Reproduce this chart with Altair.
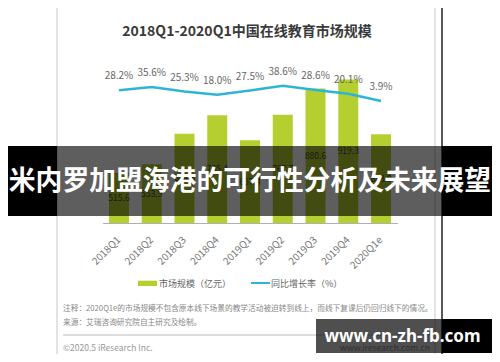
import altair as alt
import pandas as pd

quarters = ["2018Q1", "2018Q2", "2018Q3", "2018Q4", "2019Q1", "2019Q2", "2019Q3", "2019Q4", "2020Q1e"]
market = [515.6, 553.9, 684.8, 765.4, 657.4, 767.7, 880.6, 919.3, 683.0]
growth = [28.2, 35.6, 25.3, 18.0, 27.5, 38.6, 28.6, 20.1, 3.9]

title_text = "2018Q1-2020Q1中国在线教育市场规模"
legend_labels = ["市场规模（亿元）", "同比增长率（%）"]
note_lines = [
    "注释：2020Q1e的市场规模不包含原本线下场景的教学活动被迫转到线上，而线下复课后仍回归线下的情况。",
    "来源：艾瑞咨询研究院自主研究及绘制。",
]
footer_left = "©2020.5 iResearch Inc."
footer_right = "www.iresearch.com.cn"
banner_text = "米内罗加盟海港的可行性分析及未来展望"
watermark_text = "www.cn-zh-fb.com"

FONT = "Noto Sans CJK SC"
GREEN = "#b4cf2f"
BLUE = "#2db5d8"

df = pd.DataFrame({"q": quarters, "v": market, "g": growth})
one = pd.DataFrame({"k": [0]})

xscale = alt.Scale(domain=quarters, range=[94.6, 389.4], paddingInner=0.39, paddingOuter=0.195)
ybar = alt.Scale(domain=[300, 1000], range=[215, 52.8], zero=False, nice=False)
yline = alt.Scale(domain=[0, 100], range=[94.7, 50.6], zero=False, nice=False)

xenc = alt.X("q:N", sort=quarters, scale=xscale, title=None,
             axis=alt.Axis(labelAngle=-45, labelAlign="right", labelBaseline="middle",
                           labelPadding=15, labelFontSize=10, labelColor="#777", labelFont=FONT,
                           domainColor="#b0b0b0", ticks=False, grid=False, zindex=1))


def box(x, x2, y, y2, **kw):
    return alt.Chart(one).mark_rect(**kw).encode(
        x=alt.value(x), x2=alt.value(x2), y=alt.value(y), y2=alt.value(y2))


def label(x, y, s, **kw):
    base = dict(font=FONT, baseline="middle")
    base.update(kw)
    return alt.Chart(one).mark_text(**base).encode(
        x=alt.value(x), y=alt.value(y), text=alt.value(s))


frame = box(49, 427, -10, 360, fill="white", stroke="#c8c8c8", strokeWidth=1)
edge = alt.Chart(one).mark_rule(color="#222", strokeWidth=1.5).encode(
    x=alt.value(434), y=alt.value(-8), y2=alt.value(346))

title = label(239, 24, title_text, fontSize=14, fontWeight="bold", color="#3a3a3a", align="center")

bars = alt.Chart(df).mark_bar(color=GREEN).encode(
    x=xenc,
    y=alt.Y("v:Q", scale=ybar, axis=None),
    y2=alt.datum(300),
)

bar_labels = alt.Chart(df).transform_calculate(mid="(datum.v + 300) / 2").mark_text(
    font=FONT, fontSize=8.5, color="#444", baseline="middle").encode(
    x=alt.X("q:N", sort=quarters, scale=xscale),
    y=alt.Y("mid:Q", scale=ybar, axis=None),
    text=alt.Text("v:Q", format=".1f"),
)

line = alt.Chart(df).mark_line(color=BLUE, strokeWidth=2.5).encode(
    x=alt.X("q:N", sort=quarters, scale=xscale),
    y=alt.Y("g:Q", scale=yline, axis=None),
)

line_labels = alt.Chart(df).transform_calculate(lab="format(datum.g, '.1f') + '%'").mark_text(
    font=FONT, fontSize=10, color="#666", baseline="middle", dy=-14).encode(
    x=alt.X("q:N", sort=quarters, scale=xscale),
    y=alt.Y("g:Q", scale=yline, axis=None),
    text="lab:N",
)

leg1 = box(130, 149, 272.7, 278, fill=GREEN)
leg1t = label(151, 275.5, legend_labels[0], fontSize=9, color="#666", align="left")
leg2 = alt.Chart(one).mark_rule(color=BLUE, strokeWidth=2).encode(
    x=alt.value(243), x2=alt.value(262), y=alt.value(275))
leg2t = label(263, 275.5, legend_labels[1], fontSize=9, color="#666", align="left")

note1 = label(55, 301.3, note_lines[0], fontSize=7.7, color="#888", align="left")
note2 = label(55, 314.7, note_lines[1], fontSize=7.7, color="#888", align="left")
sep = alt.Chart(one).mark_rule(color="#bbb", strokeWidth=1).encode(
    x=alt.value(55), x2=alt.value(422), y=alt.value(327))
foot1 = label(55, 340.3, footer_left, fontSize=8.5, color="#999", align="left")
foot2 = label(422, 340.3, footer_right, fontSize=8.5, color="#999", align="right")

ban_l = box(0, 49, 138, 208, fill="black")
ban_m = box(49, 434, 138, 208, fill="black", opacity=0.63)
ban_r = box(434, 484, 138, 208, fill="black")
ban_t = label(242, 174, banner_text, fontSize=26.8, fontWeight="bold", color="white", align="center")

wm_m = box(308, 434, 311, 345, fill="black", opacity=0.69)
wm_r = box(434, 484, 311, 345, fill="black")
wm_t = label(394.5, 329, watermark_text, font="Noto Sans", fontSize=17, fontWeight="bold",
             color="white", align="center")

chart = alt.layer(
    frame, edge, title, bars, bar_labels, line, line_labels,
    leg1, leg1t, leg2, leg2t, note1, note2, sep, foot1, foot2,
    ban_l, ban_m, ban_r, ban_t, wm_m, wm_r, wm_t,
).resolve_scale(y="independent").properties(
    width=484, height=215,
    padding={"left": 0, "top": 0, "right": 0, "bottom": 131},
    autosize="none",
).configure_view(strokeWidth=0)

chart.save("out.html", embed_options={"renderer": "svg", "actions": False})
